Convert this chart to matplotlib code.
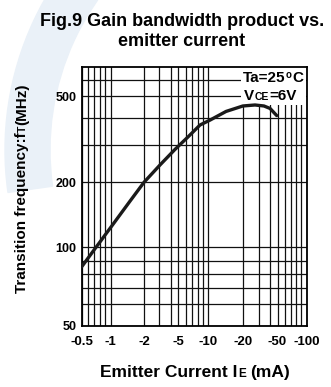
"""Fig.9 fT vs IE 复刻 —— matplotlib 画图，输出 out.png。"""
import numpy as np
import matplotlib

matplotlib.use("Agg")
import matplotlib.pyplot as plt
from matplotlib.patches import Rectangle, Wedge
from matplotlib.ticker import FixedLocator, NullFormatter
from matplotlib.transforms import IdentityTransform

plt.rcParams["font.family"] = ["Liberation Sans", "DejaVu Sans"]

# 曲线数据
ie_ma = [0.5, 0.6, 0.7, 0.8, 0.9, 1.0, 1.5, 2.0, 3.08, 4.55, 6.38, 8.4, 10.35,
         14.3, 20.1, 27.3, 34.4, 40.4, 48.9]
ft_mhz = [85.3, 92.1, 98.2, 105.9, 113.9, 123.6, 164, 200, 241.6, 286, 326.5, 370.4, 390,
          427, 452, 456.7, 452, 440.6, 409]

x_ticks = [0.5, 1, 2, 5, 10, 20, 50, 100]
x_labels = ["-0.5", "-1", "-2", "-5", "-10", "-20", "-50", "-100"]
x_minor = [0.6, 0.7, 0.8, 0.9, 3, 4, 6, 7, 8, 9, 30, 40, 60, 70, 80, 90]
y_ticks = [50, 100, 200, 500]
y_labels = ["50", "100", "200", "500"]
y_minor = [60, 70, 80, 90, 300, 400, 600]

# 原图格线不是严格的对数间距，按格线像素位置做分段映射
X_ANCHOR = [0.5, 0.6, 0.7, 0.8, 0.9, 1, 2, 3, 4, 5, 6, 7, 8, 9, 10,
            20, 30, 40, 50, 60, 70, 80, 90, 100]
X_PX = [81.7, 88.3, 94.3, 100, 105, 110.7, 144, 159, 170.5, 178.3, 185.5, 191.7,
        197.7, 203.3, 208.3, 242.7, 258.7, 269.7, 277.5, 284.7, 290.8, 296, 300.8, 306.5]
Y_ANCHOR = [50, 60, 70, 80, 90, 100, 200, 300, 400, 500, 600, 700]
Y_PX = [326, 304, 288.3, 274, 260.7, 247.3, 182.3, 145, 117.7, 96.3, 80.3, 66.7]

W, H = 331, 387


def make_scale(anchor, px):
    lg = np.log10(anchor)
    px = np.asarray(px, float)
    # 两端线性外推，保证可逆
    s0 = (px[1] - px[0]) / (lg[1] - lg[0])
    s1 = (px[-1] - px[-2]) / (lg[-1] - lg[-2])
    lg = np.r_[lg[0] - 10, lg, lg[-1] + 10]
    px = np.r_[px[0] - 10 * s0, px, px[-1] + 10 * s1]

    def fwd(v):
        return np.interp(np.log10(np.clip(v, 1e-9, None)), lg, px)

    def inv(p):
        return 10 ** np.interp(p, px, lg)

    return fwd, inv


def rich_text(fig, pieces, x, y, vertical=False, center=True):
    """pieces: (文字, 字号, 上移像素, 前置间距像素)；x, y 为像素坐标（左下原点）"""
    r = fig.canvas.get_renderer()
    widths = []
    for s, size, rise, gap in pieces:
        t = fig.text(0, 0, s, fontsize=size, fontweight="bold", transform=IdentityTransform())
        widths.append(t.get_window_extent(r).width)
        t.remove()
    total = sum(widths) + sum(p[3] for p in pieces)
    pos = (y if vertical else x) - (total / 2 if center else 0)
    for (s, size, rise, gap), w in zip(pieces, widths):
        pos += gap
        if vertical:
            px, py = x - rise, pos
        else:
            px, py = pos, y + rise
        fig.text(px, py, s, fontsize=size, fontweight="bold", ha="left", va="baseline",
                 rotation=90 if vertical else 0, rotation_mode="anchor",
                 transform=IdentityTransform(), zorder=5)
        pos += w


fig = plt.figure(figsize=(W / 100, H / 100), dpi=100)

# 左上角浅色水印
fig.patches.append(Wedge((310, H - 150), 305, 122, 188, width=45, color="#eaf1f8",
                         transform=IdentityTransform(), zorder=-1))

ax = fig.add_axes([X_PX[0] / W, (H - Y_PX[0]) / H,
                   (X_PX[-1] - X_PX[0]) / W, (Y_PX[0] - Y_PX[-1]) / H])
ax.set_xscale("function", functions=make_scale(X_ANCHOR, X_PX))
ax.set_yscale("function", functions=make_scale(Y_ANCHOR, -np.asarray(Y_PX)))
ax.set_xlim(0.5, 100)
ax.set_ylim(50, 700)

ax.xaxis.set_major_locator(FixedLocator(x_ticks))
ax.xaxis.set_minor_locator(FixedLocator(x_minor))
ax.yaxis.set_major_locator(FixedLocator(y_ticks))
ax.yaxis.set_minor_locator(FixedLocator(y_minor))
ax.xaxis.set_minor_formatter(NullFormatter())
ax.yaxis.set_minor_formatter(NullFormatter())
ax.set_xticklabels(x_labels, fontweight="bold", fontsize=9.5)
ax.set_yticklabels(y_labels, fontweight="bold", fontsize=9)
ax.tick_params(which="both", length=0)
ax.tick_params(axis="x", pad=7.5)
ax.tick_params(axis="y", pad=4)
ax.grid(True, which="both", color="#111111", linewidth=0.9)
for sp in ax.spines.values():
    sp.set_linewidth(1.3)
    sp.set_color("black")

# 右上角条件说明的白底
ax.add_patch(Rectangle((0.708, 0.852), 0.29, 0.145, transform=ax.transAxes,
                       facecolor="white", edgecolor="none", zorder=2))

ax.plot(ie_ma, ft_mhz, color="#1a1a1a", linewidth=2.4, solid_capstyle="round",
        solid_joinstyle="round", zorder=3)

fig.text(182, H - 31.5, "Fig.9 Gain bandwidth product vs.\nemitter current",
         ha="center", va="center", fontsize=13, fontweight="bold", linespacing=1.2,
         transform=IdentityTransform())

rich_text(fig, [("Ta=25", 11, 0, 0), ("o", 7, 5, 0.5), ("C", 11, 0, 0.5)],
          243, H - 82.5, center=False)
rich_text(fig, [("V", 11, 0, 0), ("CE", 7.5, 0, 0.3), ("=6V", 11, 0, 0.3)],
          244, H - 100.5, center=False)
rich_text(fig, [("Emitter Current I", 12.5, 0, 0), ("E", 8.5, 0, 0.5), ("(mA)", 12.5, 0, 4.5)],
          195, H - 377)
rich_text(fig, [("Transition frequency:f", 11, 0, 0), ("T", 7.5, 0, 0.3), ("(MHz)", 11, 0, 0.3)],
          26, H - 188, vertical=True)

fig.savefig("out.png", dpi=100)
